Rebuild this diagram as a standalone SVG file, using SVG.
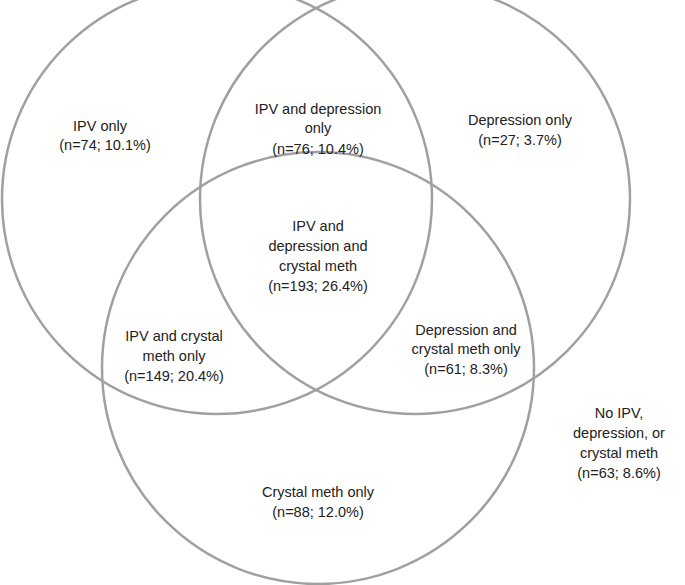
<svg xmlns="http://www.w3.org/2000/svg" width="685" height="585" viewBox="0 0 685 585">
<style>
circle{fill:none;stroke:#a0a0a0;stroke-width:2.5}
text{font-family:"Liberation Sans",Arial,sans-serif;font-size:14.5px;fill:#222;text-anchor:middle}
</style>
<rect width="685" height="585" fill="#fff"/>
<g id="connectors"></g>
<g id="circles">
<circle id="c-ipv" cx="217" cy="199" r="215"/>
<circle id="c-dep" cx="415" cy="199" r="215"/>
<circle id="c-meth" cx="318" cy="368" r="216"/>
</g>
<g id="n1"><text x="100" y="131">IPV only</text><text x="105" y="150">(n=74; 10.1%)</text></g>
<g id="n2"><text x="318" y="114">IPV and depression</text><text x="318" y="133">only</text><text x="318" y="154">(n=76; 10.4%)</text></g>
<g id="n3"><text x="520" y="125">Depression only</text><text x="520" y="145">(n=27; 3.7%)</text></g>
<g id="n4"><text x="318" y="231">IPV and</text><text x="318" y="251">depression and</text><text x="318" y="271">crystal meth</text><text x="318" y="291">(n=193; 26.4%)</text></g>
<g id="n5"><text x="174" y="341">IPV and crystal</text><text x="174" y="361">meth only</text><text x="174" y="381">(n=149; 20.4%)</text></g>
<g id="n6"><text x="466" y="335">Depression and</text><text x="466" y="354">crystal meth only</text><text x="466" y="374">(n=61; 8.3%)</text></g>
<g id="n7"><text x="318" y="497">Crystal meth only</text><text x="318" y="517">(n=88; 12.0%)</text></g>
<g id="n8"><text x="619" y="418">No IPV,</text><text x="619" y="438">depression, or</text><text x="619" y="458">crystal meth</text><text x="619" y="478">(n=63; 8.6%)</text></g>
</svg>
